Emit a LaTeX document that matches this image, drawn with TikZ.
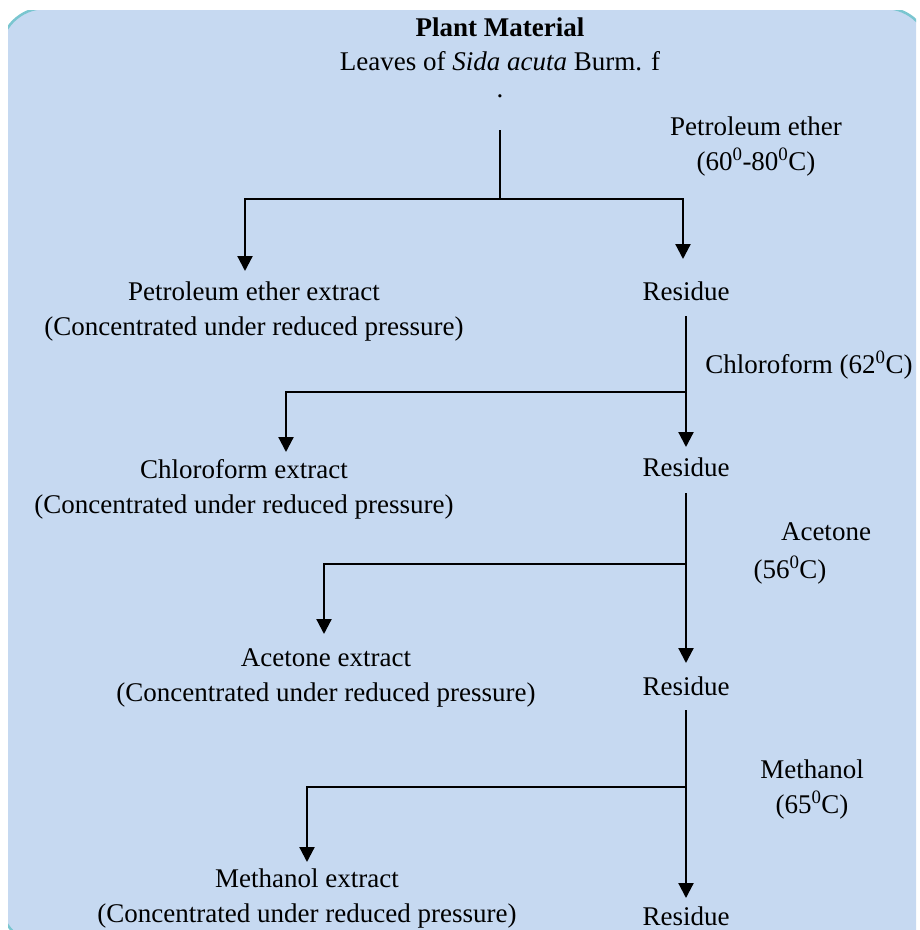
\documentclass[tikz,border=0pt]{standalone}
\usepackage{fontspec}
\setmainfont{Liberation Serif}
\usetikzlibrary{arrows.meta}
\definecolor{bgblue}{RGB}{198,217,241}
\definecolor{rimteal}{RGB}{122,198,208}
\begin{document}
\begin{tikzpicture}[x=1pt,y=-1pt,
  lbl/.style={inner sep=0pt, outer sep=0pt, anchor=base, align=center, font=\fontsize{27}{35}\selectfont},
  flow/.style={line width=2.2pt, draw=black},
  arr/.style={flow, -{Triangle[width=15pt,length=15pt]}}]
\useasboundingbox (0,0) rectangle (920,930);
\begin{scope}
  \clip (8,10) rectangle (916,930);
  \draw[fill=bgblue, draw=rimteal, line width=2.5pt, rounded corners=45pt] (0,8) rectangle (930,945);
\end{scope}

% labels (two-line labels are placed by the baseline of their last line)
\node[lbl, font=\bfseries\fontsize{27}{35}\selectfont] (title) at (500,36) {Plant Material};
\node[lbl] (leaves) at (500,70) {Leaves of \textit{Sida acuta} Burm. f};
\node[lbl] (dot) at (500,97) {.};
\node[lbl] (pet) at (756,170) {Petroleum ether\\(60\textsuperscript{0}-80\textsuperscript{0}C)};
\node[lbl] (pee) at (254,335) {Petroleum ether extract\\(Concentrated under reduced pressure)};
\node[lbl] (r1) at (686,300) {Residue};
\node[lbl] (chl) at (809,373) {Chloroform (62\textsuperscript{0}C)};
\node[lbl] (che) at (244,513) {Chloroform extract\\(Concentrated under reduced pressure)};
\node[lbl] (r2) at (686,476) {Residue};
\node[lbl] (ace) at (826,540) {Acetone};
\node[lbl] (acet) at (790,578) {(56\textsuperscript{0}C)};
\node[lbl] (acx) at (326,701) {Acetone extract\\(Concentrated under reduced pressure)};
\node[lbl] (r3) at (686,695) {Residue};
\node[lbl] (met) at (812,813) {Methanol\\(65\textsuperscript{0}C)};
\node[lbl] (mee) at (307,922) {Methanol extract\\(Concentrated under reduced pressure)};
\node[lbl] (r4) at (686,925) {Residue};

% connector points
\coordinate (s0) at (500,130);
\coordinate (j0) at (500,199);
\coordinate (t0L) at (245,271);
\coordinate (t0R) at (683,259);
\coordinate (o1) at (686,316);
\coordinate (j1) at (686,392);
\coordinate (t1R) at (686,447);
\coordinate (t1L) at (286,452);
\coordinate (o2) at (686,493);
\coordinate (j2) at (686,564);
\coordinate (t2R) at (686,663);
\coordinate (t2L) at (324,634);
\coordinate (o3) at (686,710);
\coordinate (j3) at (686,787);
\coordinate (t3R) at (686,898);
\coordinate (t3L) at (307,862);

\draw[flow] (s0) -- (j0);
\draw[arr] (j0) -| (t0L);
\draw[arr] (j0) -| (t0R);
\draw[arr] (o1) -- (t1R);
\draw[arr] (j1) -| (t1L);
\draw[arr] (o2) -- (t2R);
\draw[arr] (j2) -| (t2L);
\draw[arr] (o3) -- (t3R);
\draw[arr] (j3) -| (t3L);
\end{tikzpicture}
\end{document}
